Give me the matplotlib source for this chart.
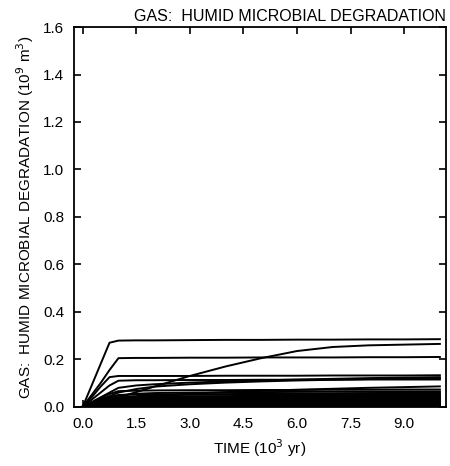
import numpy as np
import matplotlib.pyplot as plt

plt.rcParams['font.family'] = ['Liberation Sans', 'DejaVu Sans']

# time knots (10^3 yr) shared by all curves
t = [0.0, 0.25, 0.5, 0.75, 1.0, 1.5, 2.0, 3.0, 4.0, 5.0, 6.0, 7.0, 8.0, 9.0, 10.0]

# gas volumes (10^9 m^3) at the knots, one list per realization
curves = [
    [0, 0.09, 0.18, 0.27, 0.279, 0.28, 0.28, 0.281, 0.282, 0.282, 0.283, 0.283, 0.284, 0.284, 0.285],
    [0, 0.05, 0.10, 0.155, 0.205, 0.206, 0.206, 0.207, 0.207, 0.208, 0.208, 0.208, 0.209, 0.209, 0.21],
    [0, 0.01, 0.02, 0.03, 0.04, 0.062, 0.085, 0.13, 0.17, 0.205, 0.235, 0.252, 0.259, 0.262, 0.265],
    [0, 0.04, 0.085, 0.125, 0.13, 0.13, 0.13, 0.13, 0.131, 0.131, 0.131, 0.132, 0.132, 0.132, 0.133],
    [0, 0.03, 0.06, 0.09, 0.11, 0.112, 0.112, 0.113, 0.113, 0.114, 0.114, 0.114, 0.115, 0.115, 0.115],
    [0, 0.02, 0.04, 0.06, 0.08, 0.09, 0.095, 0.102, 0.107, 0.111, 0.115, 0.118, 0.121, 0.123, 0.125],
    [0, 0.015, 0.03, 0.045, 0.06, 0.075, 0.085, 0.095, 0.102, 0.107, 0.111, 0.114, 0.117, 0.119, 0.12],
    [0, 0.01, 0.02, 0.028, 0.035, 0.042, 0.048, 0.055, 0.062, 0.067, 0.072, 0.076, 0.08, 0.083, 0.086],
    [0, 0.018, 0.036, 0.054, 0.066, 0.068, 0.069, 0.07, 0.07, 0.071, 0.071, 0.072, 0.072, 0.073, 0.073],
    [0, 0.012, 0.024, 0.036, 0.048, 0.055, 0.058, 0.06, 0.061, 0.062, 0.063, 0.064, 0.064, 0.065, 0.065],
    [0, 0.01, 0.02, 0.03, 0.038, 0.045, 0.048, 0.051, 0.053, 0.055, 0.056, 0.057, 0.058, 0.059, 0.06],
    [0, 0.013, 0.026, 0.04, 0.05, 0.052, 0.052, 0.053, 0.053, 0.054, 0.054, 0.054, 0.055, 0.055, 0.055],
    [0, 0.008, 0.016, 0.024, 0.03, 0.036, 0.04, 0.043, 0.045, 0.047, 0.048, 0.049, 0.05, 0.05, 0.051],
    [0, 0.01, 0.02, 0.03, 0.04, 0.042, 0.043, 0.044, 0.044, 0.045, 0.045, 0.045, 0.046, 0.046, 0.046],
    [0, 0.006, 0.012, 0.018, 0.024, 0.03, 0.034, 0.037, 0.039, 0.04, 0.041, 0.041, 0.042, 0.042, 0.042],
    [0, 0.009, 0.018, 0.027, 0.034, 0.036, 0.036, 0.037, 0.037, 0.037, 0.038, 0.038, 0.038, 0.038, 0.038],
    [0, 0.005, 0.01, 0.015, 0.02, 0.025, 0.028, 0.031, 0.032, 0.033, 0.034, 0.034, 0.034, 0.035, 0.035],
    [0, 0.007, 0.014, 0.021, 0.028, 0.03, 0.03, 0.031, 0.031, 0.031, 0.031, 0.032, 0.032, 0.032, 0.032],
    [0, 0.004, 0.008, 0.012, 0.016, 0.02, 0.022, 0.025, 0.026, 0.027, 0.027, 0.028, 0.028, 0.028, 0.028],
    [0, 0.006, 0.012, 0.018, 0.022, 0.023, 0.023, 0.024, 0.024, 0.024, 0.024, 0.025, 0.025, 0.025, 0.025],
    [0, 0.003, 0.006, 0.009, 0.012, 0.015, 0.017, 0.019, 0.02, 0.021, 0.021, 0.022, 0.022, 0.022, 0.022],
    [0, 0.005, 0.01, 0.015, 0.018, 0.018, 0.018, 0.019, 0.019, 0.019, 0.019, 0.019, 0.019, 0.019, 0.019],
    [0, 0.003, 0.006, 0.009, 0.011, 0.013, 0.014, 0.015, 0.015, 0.016, 0.016, 0.016, 0.016, 0.016, 0.016],
    [0, 0.003, 0.006, 0.009, 0.012, 0.012, 0.012, 0.012, 0.013, 0.013, 0.013, 0.013, 0.013, 0.013, 0.013],
    [0, 0.002, 0.004, 0.006, 0.008, 0.009, 0.01, 0.01, 0.01, 0.01, 0.01, 0.01, 0.01, 0.01, 0.01],
    [0, 0.002, 0.003, 0.005, 0.006, 0.007, 0.007, 0.007, 0.007, 0.007, 0.007, 0.007, 0.007, 0.007, 0.007],
    [0, 0.001, 0.002, 0.003, 0.004, 0.004, 0.004, 0.004, 0.004, 0.004, 0.004, 0.004, 0.004, 0.004, 0.004],
    [0, 0.001, 0.001, 0.002, 0.002, 0.002, 0.002, 0.002, 0.002, 0.002, 0.002, 0.002, 0.002, 0.002, 0.002],
]

xticks = [0.0, 1.5, 3.0, 4.5, 6.0, 7.5, 9.0]
yticks = [0.0, 0.2, 0.4, 0.6, 0.8, 1.0, 1.2, 1.4, 1.6]

fig = plt.figure(figsize=(4.5, 4.66), dpi=100)
ax = fig.add_axes([0.164, 0.127, 0.827, 0.815])

for c in curves:
    ax.plot(t, c, color='black', lw=1.4)

ax.set_xlim(-0.25, 10.17)
ax.set_ylim(0, 1.6)
ax.set_xticks(xticks)
ax.set_xticklabels(['%.1f' % v for v in xticks])
ax.set_yticks(yticks)
ax.set_yticklabels(['%.1f' % v for v in yticks])
ax.tick_params(direction='in', top=True, right=True, length=5, width=1.2,
               labelsize=11, pad=7)
for s in ax.spines.values():
    s.set_linewidth(1.3)

ax.set_title('GAS:  HUMID MICROBIAL DEGRADATION', loc='right', fontsize=11.5, pad=4)
ax.set_xlabel('TIME (10$^3$ yr)', fontsize=11, labelpad=5)
ax.set_ylabel('GAS:  HUMID MICROBIAL DEGRADATION (10$^9$ m$^3$)', fontsize=11, labelpad=5)

fig.savefig('out.png', dpi=100)
